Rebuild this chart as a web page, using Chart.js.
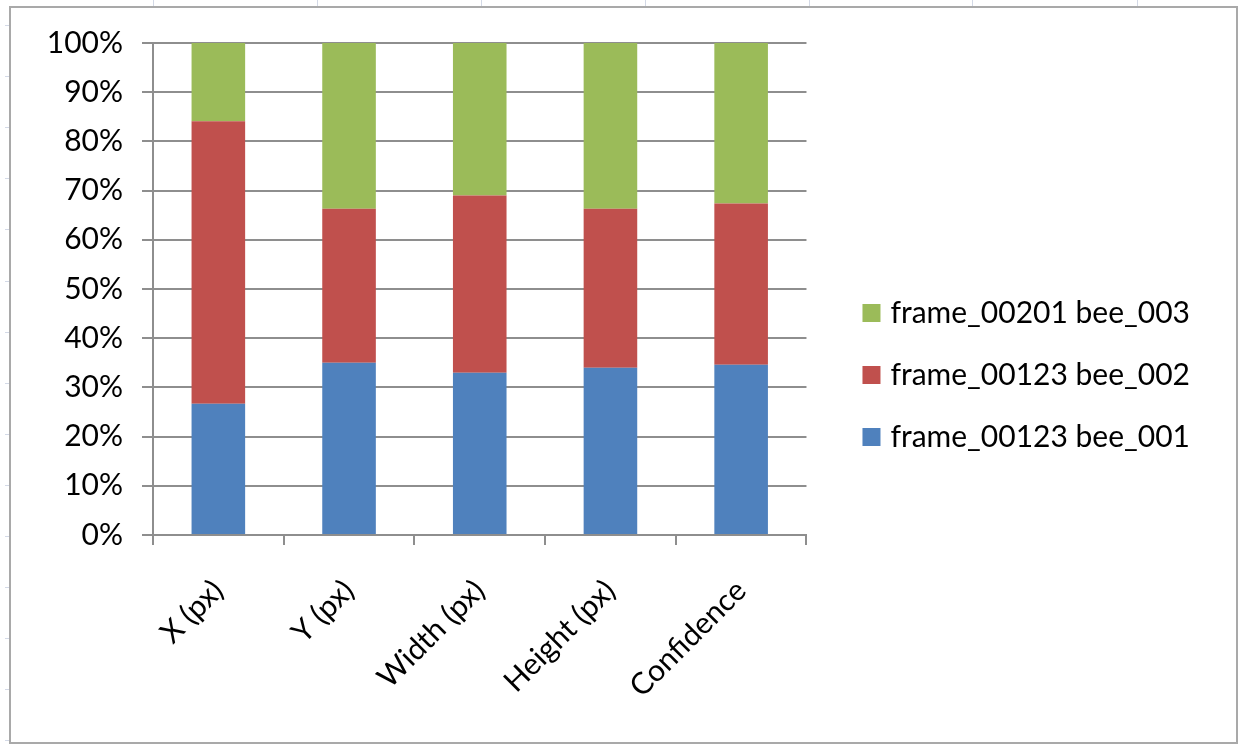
<!DOCTYPE html>
<html>
<head>
<meta charset="utf-8">
<script src="https://cdn.jsdelivr.net/npm/chart.js@4.4.1/dist/chart.umd.min.js"></script>
<style>
  html, body { margin: 0; padding: 0; background: #ffffff; }
  #wrap { width: 1240px; height: 745px; }
</style>
</head>
<body>
<div id="wrap"><canvas id="chart" width="1240" height="745"></canvas></div>
<script>
// Share of each detection per measurement (percent of column total)
const categories = ['X (px)', 'Y (px)', 'Width (px)', 'Height (px)', 'Confidence'];
const seriesNames = ['frame_00123 bee_001', 'frame_00123 bee_002', 'frame_00201 bee_003'];
const bee001 = [26.7, 35.0, 33.0, 34.0, 34.6];
const bee002 = [57.4, 31.3, 36.0, 32.3, 32.8];
const bee003 = [15.9, 33.7, 31.0, 33.7, 32.6];
const yTickValues = [0, 10, 20, 30, 40, 50, 60, 70, 80, 90, 100];

const seriesColors = ['#4f81bd', '#c0504d', '#9bbb59'];
const gridGray = '#8e8e8e';
const FONT = 'Lato';
const FONT_SIZE = 30;

// Legend geometry: swatch, spacing and the reserved width on the right
const LEGEND_PAD = 32;
const LEGEND_BOX = 8;
const LEGEND_SWATCH_STROKE = 10;
const PLOT_RIGHT = 806;
const measureCtx = document.createElement('canvas').getContext('2d');
measureCtx.font = FONT_SIZE + 'px ' + FONT;
const legendTextWidth = Math.max(...seriesNames.map(s => measureCtx.measureText(s).width));
const legendWidth = Math.ceil(LEGEND_PAD + LEGEND_BOX + FONT_SIZE / 2 + legendTextWidth + 10);
const rightPadding = Math.max(0, 1240 - PLOT_RIGHT - legendWidth);

// Worksheet backdrop: faint cell lines around a bordered chart frame
const sheetFrame = {
  id: 'sheetFrame',
  beforeDraw(chart) {
    const ctx = chart.ctx;
    ctx.save();
    ctx.fillStyle = '#ffffff';
    ctx.fillRect(0, 0, chart.width, chart.height);
    ctx.strokeStyle = '#d3d9e6';
    ctx.lineWidth = 1;
    [153, 317, 481, 645, 809, 972, 1137].forEach(x => {
      ctx.beginPath(); ctx.moveTo(x + 0.5, 0); ctx.lineTo(x + 0.5, 6); ctx.stroke();
    });
    for (let y = 25; y < chart.height; y += 51.1) {
      ctx.beginPath(); ctx.moveTo(5, Math.round(y) + 0.5); ctx.lineTo(9, Math.round(y) + 0.5); ctx.stroke();
    }
    ctx.strokeStyle = '#a9a9a9';
    ctx.lineWidth = 2;
    ctx.strokeRect(10, 7, 1227, 736);
    ctx.restore();
  }
};

// Nudge the legend right of the plot area and centre it on the plot
const legendGap = {
  id: 'legendGap',
  afterLayout(chart) {
    const lg = chart.legend;
    if (lg) {
      lg.left += 29; lg.right += 29;
      lg.top -= 16.5; lg.bottom -= 16.5;
    }
  }
};

new Chart(document.getElementById('chart'), {
  type: 'bar',
  data: {
    labels: categories,
    datasets: [
      { label: seriesNames[0], data: bee001, backgroundColor: seriesColors[0] },
      { label: seriesNames[1], data: bee002, backgroundColor: seriesColors[1] },
      { label: seriesNames[2], data: bee003, backgroundColor: seriesColors[2] }
    ]
  },
  options: {
    responsive: false,
    devicePixelRatio: 1,
    animation: false,
    layout: { padding: { left: 20, top: 43, right: rightPadding, bottom: 5 } },
    datasets: { bar: { categoryPercentage: 1.0, barPercentage: 0.41, borderWidth: 0 } },
    scales: {
      x: {
        stacked: true,
        offset: true,
        grid: { display: true, offset: true, drawOnChartArea: false, drawTicks: true, tickLength: 10, color: gridGray, lineWidth: 2 },
        border: { display: true, color: gridGray, width: 2 },
        ticks: {
          autoSkip: false, minRotation: 45, maxRotation: 45, padding: 28,
          color: '#000000', font: { family: FONT, size: FONT_SIZE }
        },
        afterFit(scale) { scale.height = 205; }
      },
      y: {
        stacked: true,
        min: 0,
        max: 100,
        afterBuildTicks(scale) { scale.ticks = yTickValues.map(v => ({ value: v })); },
        grid: { color: gridGray, lineWidth: 2, drawTicks: true, tickLength: 11 },
        border: { display: true, color: gridGray, width: 2 },
        ticks: {
          padding: 19, color: '#000000', font: { family: FONT, size: FONT_SIZE },
          callback: v => v + '%'
        },
        afterFit(scale) { scale.width = 133; }
      }
    },
    plugins: {
      tooltip: { enabled: false },
      legend: {
        position: 'right',
        align: 'center',
        reverse: true,
        maxWidth: legendWidth + 4,
        labels: {
          color: '#000000',
          font: { family: FONT, size: FONT_SIZE },
          boxWidth: LEGEND_BOX,
          boxHeight: LEGEND_BOX,
          padding: LEGEND_PAD,
          generateLabels(chart) {
            const items = Chart.defaults.plugins.legend.labels.generateLabels(chart);
            return items.map(it => Object.assign({}, it, { strokeStyle: it.fillStyle, lineWidth: LEGEND_SWATCH_STROKE }));
          }
        }
      }
    }
  },
  plugins: [sheetFrame, legendGap]
});
</script>
</body>
</html>
